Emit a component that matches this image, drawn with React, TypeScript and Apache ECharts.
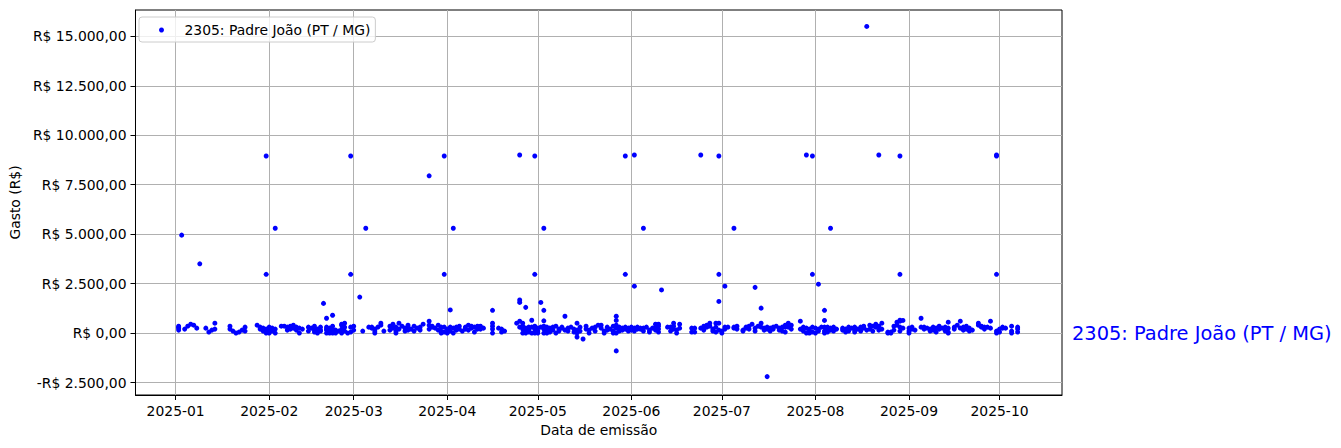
import React, { useEffect, useRef } from "react";
import * as echarts from "echarts";

const seriesName = "2305: Padre João (PT / MG)";
const xAxisTitle = "Data de emissão";
const yAxisTitle = "Gasto (R$)";
const yTicks = [-2500, 0, 2500, 5000, 7500, 10000, 12500, 15000];
const xTickMonths = [0, 1, 2, 3, 4, 5, 6, 7, 8, 9]; // month index in 2025

// [day of month, value in R$] per month of 2025
const jan: [number, number][] = [
  [2, 150], [2, 300], [2, 350], [2, 250], [3, 4950], [4, 200], [5, 350], [6, 450], [7, 400], [8, 250],
  [9, 3500], [11, 250], [12, 50], [13, 150], [14, 500], [14, 200], [19, 350], [19, 200], [20, 100],
  [21, 0], [22, 50], [23, 150], [24, 300], [24, 100], [28, 400], [29, 300], [29, 200], [30, 150],
  [30, 250], [30, 100], [31, 50], [31, 0], [31, 200], [31, 8950], [31, 2970],
];
const feb: [number, number][] = [
  [1, 300], [1, 150], [1, 0], [2, 250], [2, 100], [3, 5300], [3, 200], [3, 0], [5, 350], [6, 350],
  [7, 300], [7, 150], [8, 200], [8, 350], [9, 400], [9, 250], [10, 150], [10, 300], [11, 0], [11, 250],
  [12, 200], [14, 300], [14, 100], [15, 250], [16, 350], [16, 150], [16, 50], [17, 200], [17, 0],
  [18, 150], [18, 300], [18, 100], [19, 1500], [20, 750], [20, 300], [20, 150], [20, 0], [20, 200],
  [21, 250], [21, 100], [21, 50], [21, 0], [22, 900], [22, 200], [22, 0], [22, 350], [23, 150], [23, 0],
  [24, 100], [25, 400], [25, 450], [25, 200], [25, 0], [26, 500], [26, 300], [26, 100], [27, 0],
  [28, 8950], [28, 2970], [28, 300], [28, 50],
];
const mar: [number, number][] = [
  [1, 350], [1, 150], [3, 1820], [5, 5300], [4, 100], [6, 300], [7, 300], [7, 250], [8, 200], [8, 100],
  [8, 0], [9, 300], [10, 500], [10, 400], [11, 100], [13, 350], [13, 150], [14, 450], [14, 250], [15, 300],
  [15, 100], [15, 0], [16, 500], [16, 200], [17, 350], [18, 250], [18, 100], [19, 400], [19, 300],
  [19, 150], [20, 200], [21, 350], [21, 100], [22, 250], [23, 300], [23, 150], [24, 450], [26, 7950],
  [26, 600], [26, 400], [26, 200], [27, 300], [27, 350], [28, 250], [29, 150], [29, 400], [31, 8950],
  [31, 2970], [30, 300], [30, 100], [30, 0], [31, 50], [31, 300],
];
const apr: [number, number][] = [
  [1, 200], [1, 0], [1, 50], [2, 1170], [2, 300], [2, 100], [3, 5300], [3, 250], [3, 0], [4, 300],
  [4, 150], [5, 350], [5, 200], [6, 100], [7, 300], [7, 200], [8, 400], [8, 150], [9, 250], [9, 350],
  [10, 300], [10, 50], [11, 350], [11, 200], [12, 350], [12, 200], [12, 300], [13, 250], [16, 1150],
  [16, 500], [16, 350], [16, 200], [16, 0], [18, 250], [19, 200], [19, 50], [20, 100], [24, 500],
  [25, 9000], [25, 1670], [25, 1550], [25, 300], [25, 600], [26, 350], [26, 200], [26, 0], [26, 500],
  [27, 1300], [27, 250], [27, 100], [27, 0], [28, 300], [28, 150], [28, 50], [29, 650], [29, 300],
  [29, 0], [30, 8950], [30, 2970], [30, 200], [30, 50], [30, 0], [30, 350],
];
const may: [number, number][] = [
  [1, 250], [1, 100], [1, 0], [2, 1550], [2, 300], [3, 5300], [3, 1150], [3, 620], [3, 350], [3, 200],
  [3, 0], [4, 300], [4, 100], [4, 0], [5, 250], [5, 50], [6, 300], [6, 150], [7, 350], [7, 0], [8, 200],
  [8, 100], [9, 250], [9, 300], [10, 850], [10, 150], [11, 250], [11, 100], [12, 300], [13, 200],
  [13, 50], [14, 500], [14, -200], [14, 150], [14, 0], [15, 300], [15, 100], [16, -300], [17, 350],
  [17, 200], [18, 150], [18, 0], [19, 250], [20, 300], [20, 100], [21, 400], [22, 400], [22, 250],
  [23, 100], [23, 0], [24, 300], [24, 150], [25, 200], [26, 350], [26, 100], [26, 0], [27, -900],
  [27, 850], [27, 640], [27, 400], [27, 250], [27, 0], [28, 300], [28, 100], [29, 250], [29, 150],
  [30, 8950], [30, 2970], [30, 300], [30, 200], [31, 250], [31, 100],
];
const jun: [number, number][] = [
  [1, 300], [1, 150], [2, 9000], [2, 2370], [2, 250], [2, 100], [3, 300], [3, 200], [4, 200], [4, 250],
  [5, 5300], [5, 250], [5, 100], [6, 300], [7, 150], [7, 50], [8, 250], [9, 450], [9, 300], [9, 150],
  [10, 450], [10, 350], [10, 50], [10, 200], [11, 2180], [13, 300], [14, 300], [14, 100], [15, 500],
  [15, 350], [15, 200], [16, 150], [16, 0], [17, 450], [17, 250], [21, 250], [21, 50], [22, 250],
  [22, 50], [24, 9000], [24, 250], [25, 350], [25, 150], [26, 400], [26, 300], [27, 500], [27, 350],
  [28, 200], [28, 100], [29, 500], [29, 300], [29, 50], [30, 8950], [30, 2970], [30, 1600], [30, 500],
  [30, 150],
];
const jul: [number, number][] = [
  [1, 100], [1, 0], [2, 2370], [2, 200], [2, 300], [3, 300], [5, 5300], [5, 300], [5, 250], [6, 200],
  [6, 350], [8, 150], [8, 100], [9, 250], [9, 300], [10, 350], [10, 200], [11, 450], [12, 2310],
  [12, 250], [12, 100], [13, 350], [14, 1260], [14, 500], [14, 300], [15, 250], [15, 150], [16, -2200],
  [16, 300], [16, 200], [17, 100], [17, 250], [18, 300], [18, 200], [19, 350], [20, 150], [20, 250],
  [21, 300], [21, 100], [22, 400], [22, 300], [22, 50], [23, 500], [23, 300], [24, 400], [24, 200],
  [27, 600], [27, 200], [28, 300], [28, 100], [29, 9000], [29, 250], [29, 0], [30, 200], [30, 100],
  [30, 0], [31, 8950], [31, 2970], [31, 300], [31, 50],
];
const aug: [number, number][] = [
  [1, 250], [1, 0], [2, 2470], [2, 200], [2, 100], [3, 300], [4, 1150], [4, 640], [4, 300], [4, 100],
  [4, 0], [5, 300], [5, 200], [5, 50], [6, 5300], [6, 250], [6, 150], [7, 300], [7, 100], [8, 200],
  [10, 250], [10, 150], [11, 200], [11, 50], [12, 300], [12, 100], [13, 250], [14, 300], [14, 150],
  [14, 50], [15, 200], [16, 300], [16, 100], [17, 250], [17, 350], [18, 15500], [18, 150], [19, 400],
  [19, 200], [20, 350], [20, 100], [21, 450], [21, 300], [22, 9000], [22, 350], [22, 150], [23, 500],
  [23, 200], [25, 50], [25, 0], [26, 0], [26, 50], [27, 350], [27, 150], [28, 550], [28, 400],
  [29, 8950], [29, 2970], [29, 650], [29, 600], [29, 300], [29, 100], [30, 640], [30, 250],
];
const sep: [number, number][] = [
  [1, 250], [1, 100], [1, 0], [2, 200], [2, 300], [3, 150], [5, 750], [5, 300], [6, 300], [6, 200],
  [7, 250], [8, 200], [8, 100], [9, 300], [9, 150], [10, 250], [10, 50], [11, 350], [11, 200], [12, 250],
  [13, 300], [13, 100], [14, 550], [14, 250], [14, 50], [14, 0], [16, 300], [16, 200], [17, 400],
  [18, 600], [18, 250], [19, 150], [19, 300], [20, 350], [20, 200], [21, 100], [21, 250], [22, 150],
  [24, 500], [24, 400], [25, 300], [25, 350], [26, 200], [26, 300], [27, 300], [28, 600], [28, 250],
  [30, 8950], [30, 9000], [30, 2970], [30, 100], [30, 0],
];
const oct: [number, number][] = [
  [1, 200], [1, 50], [2, 250], [2, 300], [3, 250], [5, 350], [5, 100], [5, 0], [7, 300], [7, 200], [7, 50],
];

const monthly = [jan, feb, mar, apr, may, jun, jul, aug, sep, oct];

const DAY = 86400000;
const T0 = Date.UTC(2025, 0, 1);
const FONT = "DejaVu Sans";

function brl(v: number): string {
  const neg = v < 0;
  const [i, d] = Math.abs(v).toFixed(2).split(".");
  const withDots = i.replace(/\B(?=(\d{3})+(?!\d))/g, ".");
  return `${neg ? "-" : ""}R$ ${withDots},${d}`;
}

function monthLabel(v: number): string {
  const d = new Date(v);
  return `${d.getUTCFullYear()}-${String(d.getUTCMonth() + 1).padStart(2, "0")}`;
}

export default function App() {
  const ref = useRef<HTMLDivElement>(null);
  useEffect(() => {
    const chart = echarts.init(ref.current!, null, { renderer: "svg" });
    const points: [number, number][] = [];
    monthly.forEach((arr, m) => arr.forEach(([d, v]) => points.push([Date.UTC(2025, m, d), v])));
    const xTicks = xTickMonths.map((m) => Date.UTC(2025, m, 1));
    const axisText = { fontFamily: FONT, fontSize: 13.9, color: "#000" };
    chart.setOption({
      animation: false,
      backgroundColor: "#fff",
      grid: {
        left: 132, right: 279, top: 10, bottom: 53, show: true,
        borderColor: "#000", borderWidth: 1, backgroundColor: "transparent",
      },
      legend: {
        left: 139, top: 17, padding: [6, 5, 5, 20], itemWidth: 32, itemHeight: 5,
        backgroundColor: "rgba(255,255,255,0.8)", borderColor: "#cccccc", borderWidth: 1, borderRadius: 3,
        textStyle: { fontFamily: FONT, fontSize: 13.9, color: "#000", padding: [0, 0, 0, 2] },
        data: [{ name: seriesName, icon: "circle" }],
      },
      xAxis: {
        type: "value",
        min: T0 - 13.3 * DAY,
        max: T0 + 293.7 * DAY,
        name: xAxisTitle,
        nameLocation: "middle",
        nameGap: 28,
        nameTextStyle: axisText,
        axisLine: { show: true, onZero: false, lineStyle: { color: "#000", width: 1 } },
        axisTick: { show: true, length: 5, lineStyle: { color: "#000", width: 1 }, customValues: xTicks },
        axisLabel: { ...axisText, margin: 9, customValues: xTicks, formatter: (v: number) => monthLabel(v) },
        splitLine: { show: true, lineStyle: { color: "#b0b0b0", width: 1 } },
      },
      yAxis: {
        type: "value",
        min: -3130,
        max: 16330,
        name: yAxisTitle,
        nameLocation: "middle",
        nameGap: 104,
        nameTextStyle: axisText,
        axisLine: { show: true, onZero: false, lineStyle: { color: "#000", width: 1 } },
        axisTick: { show: true, length: 5, lineStyle: { color: "#000", width: 1 }, customValues: yTicks },
        axisLabel: { ...axisText, margin: 9, customValues: yTicks, formatter: (v: number) => brl(v) },
        splitLine: { show: true, lineStyle: { color: "#b0b0b0", width: 1 } },
      },
      graphic: [
        {
          type: "text", x: 1072, y: 333,
          style: { text: seriesName, fill: "#0000ff", fontSize: 19.4, fontFamily: FONT, align: "left", verticalAlign: "middle" },
        },
      ],
      series: [
        {
          type: "scatter",
          name: seriesName,
          data: points,
          symbol: "circle",
          symbolSize: 5,
          itemStyle: { color: "#0000ff", opacity: 1 },
          emphasis: { disabled: true },
        },
      ],
    });
    return () => chart.dispose();
  }, []);
  return (
    <div
      ref={ref}
      style={{ position: "fixed", left: 0, top: 0, width: 1341, height: 448, background: "#fff" }}
    />
  );
}
